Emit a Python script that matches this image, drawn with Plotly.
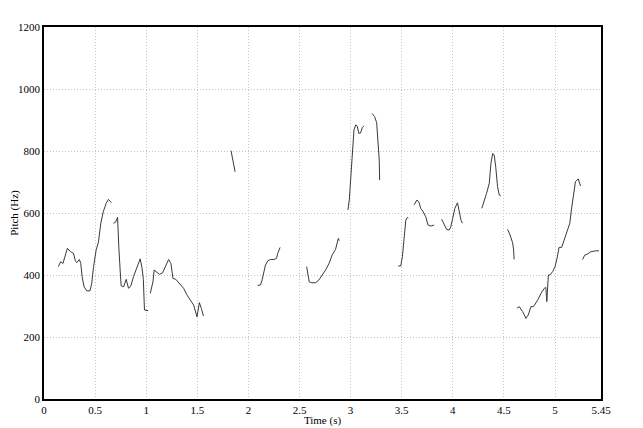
import plotly.graph_objects as go

# Pitch contour segments (time in s, pitch in Hz); None separates voiced stretches
seg_times = [
    [0.14, 0.164, 0.185, 0.206, 0.229, 0.26, 0.288, 0.307, 0.32, 0.346, 0.36, 0.373, 0.392, 0.418, 0.45, 0.467, 0.484, 0.51, 0.533, 0.556, 0.58, 0.608, 0.63, 0.66],
    [0.68, 0.70, 0.72, 0.722, 0.732, 0.745, 0.755, 0.78, 0.804, 0.827, 0.85, 0.876, 0.909, 0.941, 0.958, 0.972, 0.983, 1.0, 1.02],
    [1.04, 1.066, 1.078, 1.1, 1.13, 1.16, 1.186, 1.219, 1.242, 1.262, 1.29, 1.327, 1.366, 1.4, 1.43, 1.464, 1.497, 1.52, 1.54, 1.56],
    [1.83, 1.85, 1.87],
    [2.09, 2.118, 2.134, 2.15, 2.167, 2.19, 2.216, 2.25, 2.275, 2.287, 2.31],
    [2.57, 2.583, 2.595, 2.62, 2.657, 2.69, 2.72, 2.755, 2.79, 2.82, 2.853, 2.87, 2.88, 2.89],
    [2.974, 2.987, 3.0, 3.017, 3.033, 3.05, 3.065, 3.08, 3.097, 3.115, 3.13],
    [3.21, 3.235, 3.255, 3.27, 3.28, 3.284],
    [3.465, 3.49, 3.507, 3.52, 3.54, 3.556, 3.565],
    [3.62, 3.65, 3.668, 3.686, 3.71, 3.735, 3.758, 3.784, 3.817],
    [3.89, 3.915, 3.94, 3.964, 3.98, 3.997, 4.02, 4.046, 4.06, 4.08, 4.095],
    [4.284, 4.307, 4.33, 4.357, 4.373, 4.39, 4.405, 4.42, 4.438, 4.454, 4.47],
    [4.536, 4.56, 4.585, 4.595, 4.6],
    [4.627, 4.65, 4.683, 4.716, 4.738, 4.765, 4.79, 4.83, 4.863, 4.895, 4.91, 4.92, 4.935, 4.95, 4.977, 5.0, 5.02, 5.04, 5.065, 5.09, 5.118, 5.145, 5.16, 5.18, 5.2, 5.227, 5.25],
    [5.27, 5.29, 5.32, 5.35, 5.4, 5.43],
]
seg_pitch = [
    [427, 443, 437, 457, 486, 475, 470, 446, 440, 450, 437, 395, 362, 349, 349, 373, 425, 480, 507, 567, 604, 631, 644, 633],
    [567, 570, 586, 562, 491, 416, 365, 362, 386, 357, 365, 395, 427, 452, 425, 386, 287, 285, 285],
    [341, 378, 416, 410, 402, 407, 425, 450, 437, 389, 386, 373, 357, 335, 319, 303, 265, 311, 292, 268],
    [801, 771, 733],
    [366, 368, 384, 411, 432, 446, 450, 450, 454, 470, 489],
    [427, 405, 378, 375, 375, 384, 397, 416, 438, 465, 483, 513, 518, 511],
    [610, 642, 706, 803, 868, 884, 880, 857, 858, 876, 881],
    [921, 911, 891, 835, 771, 706],
    [429, 429, 459, 502, 577, 586, 583],
    [626, 642, 635, 615, 604, 588, 561, 558, 561],
    [580, 565, 547, 545, 555, 580, 615, 633, 610, 577, 567],
    [615, 636, 663, 696, 760, 792, 787, 749, 685, 658, 655],
    [547, 529, 504, 481, 450],
    [293, 298, 282, 260, 271, 298, 298, 319, 341, 357, 360, 314, 400, 400, 411, 427, 454, 489, 489, 513, 534, 567, 610, 663, 701, 710, 687],
    [450, 464, 468, 475, 478, 478],
]

x_tick_vals = [0, 0.5, 1, 1.5, 2, 2.5, 3, 3.5, 4, 4.5, 5, 5.45]
x_tick_text = ["0", "0.5", "1", "1.5", "2", "2.5", "3", "3.5", "4", "4.5", "5", "5.45"]
y_tick_vals = [0, 200, 400, 600, 800, 1000, 1200]
y_tick_text = ["0", "200", "400", "600", "800", "1000", "1200"]

xs, ys = [], []
for t, p in zip(seg_times, seg_pitch):
    xs.extend(t + [None])
    ys.extend(p + [None])

fig = go.Figure()
fig.add_trace(go.Scatter(
    x=xs, y=ys, mode="lines", connectgaps=False,
    line=dict(color="#3a3a3a", width=1), showlegend=False, hoverinfo="skip",
))

font = dict(family="Times New Roman, Liberation Serif, DejaVu Serif, serif", size=11, color="black")

fig.update_layout(
    width=634, height=419,
    margin=dict(l=36, r=41, t=19, b=28),
    paper_bgcolor="white", plot_bgcolor="white",
    font=font,
    xaxis=dict(
        range=[0, 5.45], tickvals=x_tick_vals, ticktext=x_tick_text,
        showgrid=True, gridcolor="#c4c4c4", griddash="1px,2px", gridwidth=1,
        showline=True, linecolor="black", linewidth=1.5, mirror=True,
        ticks="", zeroline=False, tickfont=font, automargin=False,
        title=dict(text="Time (s)", font=font, standoff=0),
    ),
    yaxis=dict(
        range=[0, 1200], tickvals=y_tick_vals, ticktext=y_tick_text,
        showgrid=True, gridcolor="#c4c4c4", griddash="1px,2px", gridwidth=1,
        showline=True, linecolor="black", linewidth=1.5, mirror=True,
        ticks="", zeroline=False, tickfont=font, automargin=False,
        title=dict(text="Pitch (Hz)", font=font, standoff=4),
    ),
)

fig.write_html("out.html")
